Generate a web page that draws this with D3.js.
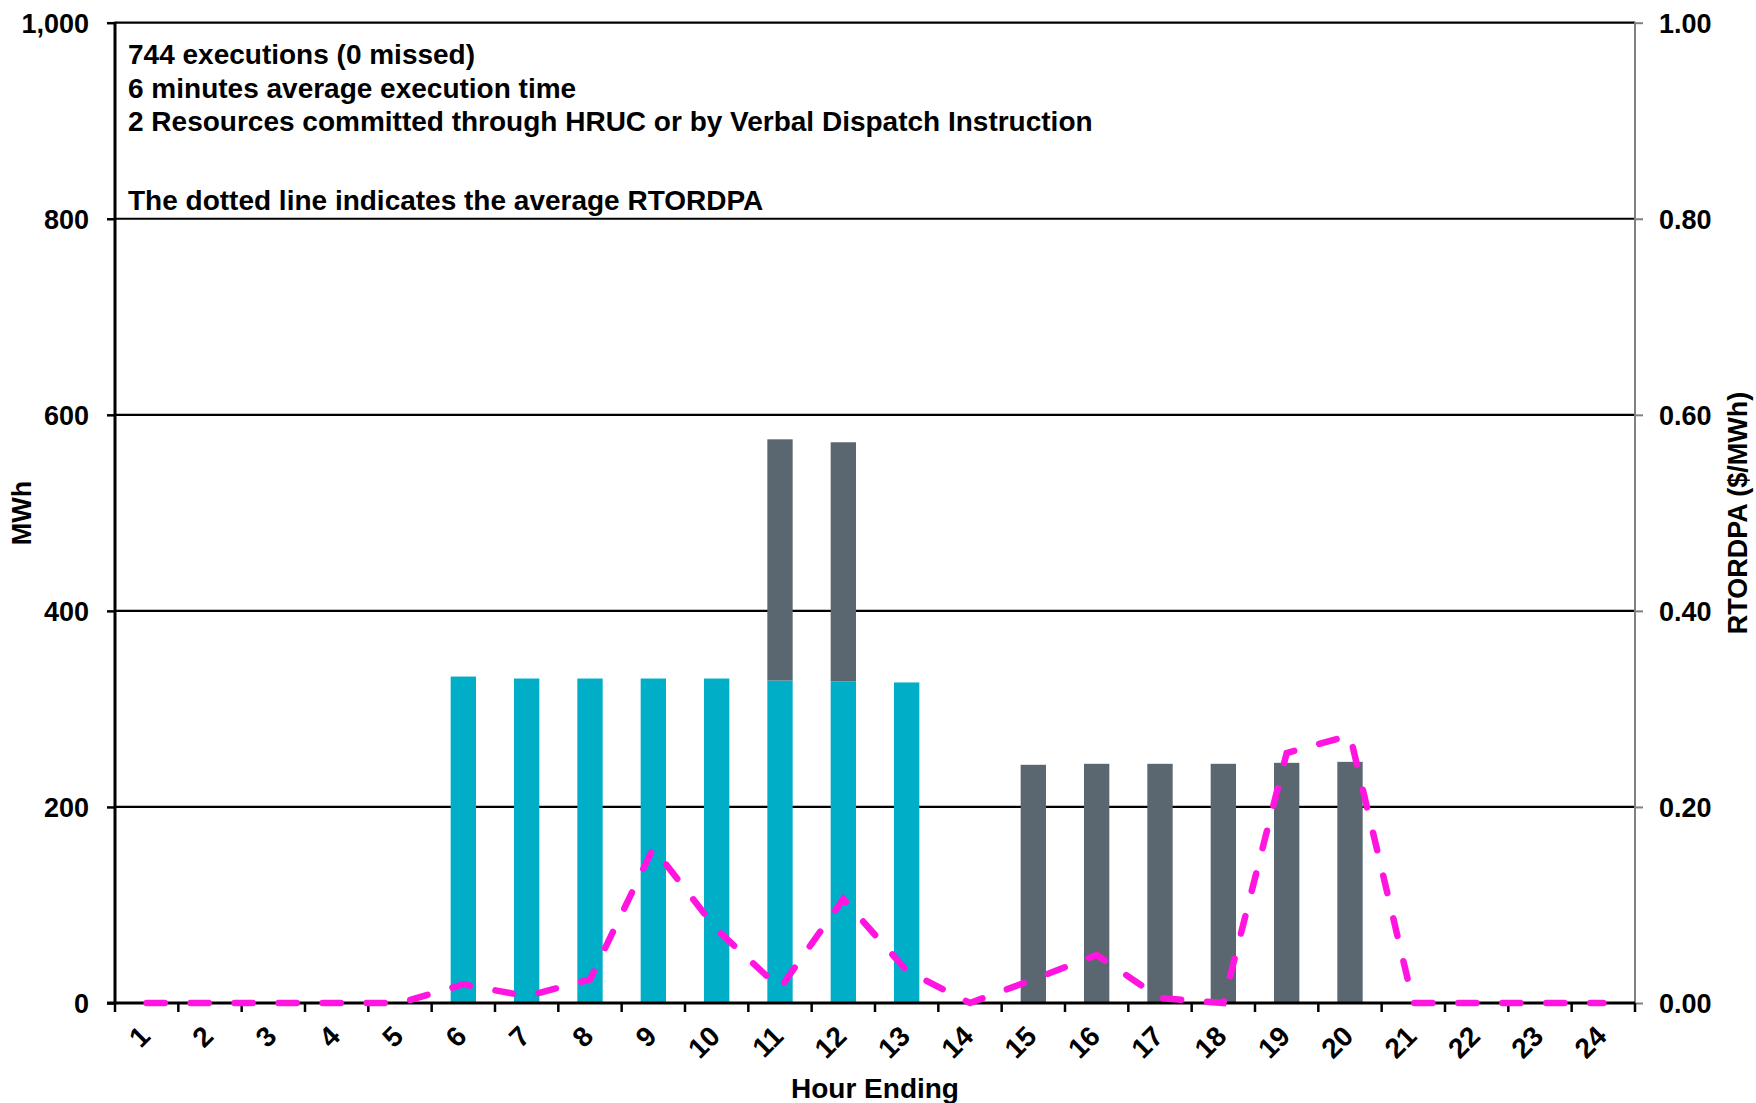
<!DOCTYPE html>
<html>
<head>
<meta charset="utf-8">
<script src="https://cdn.jsdelivr.net/npm/d3@7"></script>
<style>
  html, body { margin: 0; padding: 0; background: #fff; }
  svg { display: block; }
  text { font-family: "Liberation Sans", Arial, sans-serif; font-weight: bold; fill: #000; }
</style>
</head>
<body>
<svg id="chart" width="1756" height="1103"></svg>
<script>
// ---- data ----
const hours = ["1","2","3","4","5","6","7","8","9","10","11","12","13","14","15","16","17","18","19","20","21","22","23","24"];
const mwhTeal = [0,0,0,0,0,333,331,331,331,331,329,328,327,0,0,0,0,0,0,0,0,0,0,0];
const mwhGray = [0,0,0,0,0,0,0,0,0,0,246,244,0,0,243,244,244,244,245,246,0,0,0,0];
const rtordpa = [0,0,0,0,0,0.019,0.007,0.024,0.158,0.075,0.015,0.106,0.033,0,0.024,0.049,0.005,0,0.255,0.273,0,0,0,0];
const yTicks = [0,200,400,600,800,1000];
const y2Ticks = [0,0.2,0.4,0.6,0.8,1.0];
const notesTop = ["744 executions (0 missed)", "6 minutes average execution time", "2 Resources committed through HRUC or by Verbal Dispatch Instruction"];
const noteBottom = "The dotted line indicates the average RTORDPA";
const yTitle = "MWh";
const y2Title = "RTORDPA ($/MWh)";
const xTitle = "Hour Ending";

// ---- layout ----
const L = 115, R = 1635, T = 22.7, B = 1003;
const FS = 27;
const svg = d3.select("#chart");

const x = d3.scaleBand().domain(hours).range([L, R]).paddingInner(0.6).paddingOuter(0.3);
const y = d3.scaleLinear().domain([0, 1000]).range([B, T]);
const y2 = d3.scaleLinear().domain([0, 1]).range([B, T]);

// gridlines
svg.append("g").selectAll("line").data(yTicks.filter(d => d > 0)).join("line")
  .attr("x1", L).attr("x2", R).attr("y1", d => y(d)).attr("y2", d => y(d))
  .attr("stroke", "#000").attr("stroke-width", 2.2);

// bars
const barsG = svg.append("g");
barsG.selectAll("rect.teal").data(hours).join("rect").attr("class", "teal")
  .attr("x", d => x(d)).attr("width", x.bandwidth())
  .attr("y", (d, i) => y(mwhTeal[i])).attr("height", (d, i) => y(0) - y(mwhTeal[i]))
  .attr("fill", "#00AEC7");
barsG.selectAll("rect.gray").data(hours).join("rect").attr("class", "gray")
  .attr("x", d => x(d)).attr("width", x.bandwidth())
  .attr("y", (d, i) => y(mwhTeal[i] + mwhGray[i])).attr("height", (d, i) => y(0) - y(mwhGray[i]))
  .attr("fill", "#5B6770");

// left axis
const yAxis = d3.axisLeft(y).tickValues(yTicks).tickSize(8).tickPadding(18).tickFormat(d3.format(","));
const gy = svg.append("g").attr("transform", `translate(${L},0)`).call(yAxis);
gy.select(".domain").remove();
gy.selectAll(".tick line").attr("stroke", "#000").attr("stroke-width", 2.5);
gy.selectAll(".tick text").attr("font-size", FS).attr("dy", "0.36em");
svg.append("line").attr("x1", L).attr("x2", L).attr("y1", T - 1).attr("y2", B + 1.5)
  .attr("stroke", "#000").attr("stroke-width", 3);

// right axis
const y2Axis = d3.axisRight(y2).tickValues(y2Ticks).tickSize(8).tickPadding(16).tickFormat(d3.format(".2f"));
const gy2 = svg.append("g").attr("transform", `translate(${R},0)`).call(y2Axis);
gy2.select(".domain").remove();
gy2.selectAll(".tick line").attr("stroke", "#808080").attr("stroke-width", 2);
gy2.selectAll(".tick text").attr("font-size", FS).attr("dy", "0.36em");
svg.append("line").attr("x1", R).attr("x2", R).attr("y1", T - 1).attr("y2", B)
  .attr("stroke", "#808080").attr("stroke-width", 2);

// bottom axis
svg.append("line").attr("x1", L - 8).attr("x2", R).attr("y1", B).attr("y2", B)
  .attr("stroke", "#000").attr("stroke-width", 3.2);
const bounds = hours.map(h => x(h) - x.step() * x.paddingInner() / 2).concat([R]);
svg.append("g").selectAll("line").data(bounds).join("line")
  .attr("x1", d => d).attr("x2", d => d).attr("y1", B).attr("y2", B + 9)
  .attr("stroke", "#000").attr("stroke-width", 2.5);
svg.append("g").selectAll("text").data(hours).join("text")
  .attr("text-anchor", "end").attr("font-size", 28)
  .attr("transform", d => `translate(${x(d) + x.bandwidth() / 2 + 5},1038) rotate(-45)`)
  .text(d => d);

// line
const line = d3.line().x((d, i) => x(hours[i]) + x.bandwidth() / 2).y(d => y2(d));
svg.append("path").datum(rtordpa).attr("d", line)
  .attr("fill", "none").attr("stroke", "#FF14E0").attr("stroke-width", 6.5)
  .attr("stroke-linecap", "round").attr("stroke-dasharray", "18,26");

// titles
svg.append("text").attr("font-size", FS).attr("text-anchor", "middle")
  .attr("transform", `translate(31,513) rotate(-90)`).text(yTitle);
svg.append("text").attr("font-size", 27).attr("text-anchor", "middle")
  .attr("transform", `translate(1747,513) rotate(-90)`).text(y2Title);
svg.append("text").attr("font-size", 28).attr("text-anchor", "middle")
  .attr("x", (L + R) / 2).attr("y", 1098).text(xTitle);

// annotations
svg.append("g").selectAll("text").data(notesTop).join("text")
  .attr("font-size", 28).attr("x", 128).attr("y", (d, i) => 64 + i * 33.5).text(d => d);
svg.append("text").attr("font-size", 28).attr("x", 128).attr("y", 210).text(noteBottom);
</script>
</body>
</html>
